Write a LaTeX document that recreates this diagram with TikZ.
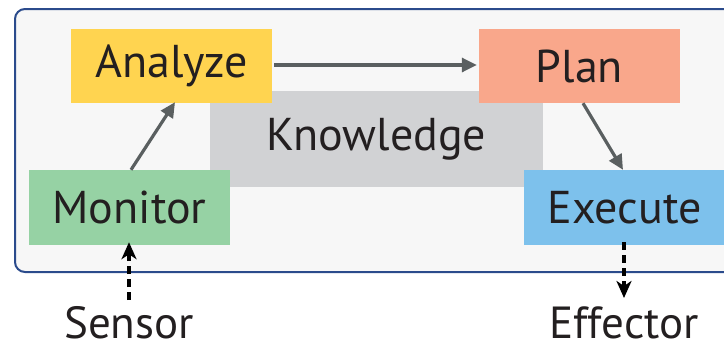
\documentclass[tikz,border=0pt]{standalone}
\usepackage{fontspec}
\setmainfont{PT Sans}
\usetikzlibrary{arrows.meta,calc}
\definecolor{frameblue}{HTML}{2B4B8C}
\definecolor{framefill}{HTML}{F7F7F7}
\definecolor{cAnalyze}{HTML}{FFD450}
\definecolor{cPlan}{HTML}{F9A78B}
\definecolor{cKnow}{HTML}{D1D2D4}
\definecolor{cMonitor}{HTML}{96D2A4}
\definecolor{cExecute}{HTML}{7DC1EC}
\definecolor{txt}{HTML}{231F20}
\definecolor{arrgray}{HTML}{5A5F60}
\tikzset{
  box/.style={rectangle, inner sep=0pt, minimum width=201pt, minimum height=75pt,
    text=txt, font=\fontsize{46}{50}\selectfont},
  flow/.style={draw=arrgray, line width=3.2pt, -{Triangle[length=15pt,width=14pt]}},
  io/.style={draw=black, line width=3.2pt, dash pattern=on 8pt off 5pt,
    -{Stealth[length=17pt,width=15pt,inset=5pt]}},
  lbl/.style={inner sep=0pt, text=txt, font=\fontsize{45}{50}\selectfont}
}
\begin{document}
\begin{tikzpicture}[x=1pt,y=-1pt]
\useasboundingbox (0,0) rectangle (724,343);
\clip (0,0) rectangle (724,343);
\draw[frameblue, fill=framefill, line width=2pt, rounded corners=10pt] (15,9) rectangle (760,272);
\node[box, fill=cKnow, minimum width=333pt, minimum height=96pt] (know) at (376.5,139) {Knowledge};
\node[box, fill=cAnalyze, minimum height=74pt] (analyze) at (171.5,66) {Analyze};
\node[box, fill=cPlan, minimum height=74pt] (plan) at (579.5,66) {Plan};
\node[box, fill=cMonitor] (monitor) at (129.5,207.5) {Monitor};
\node[box, fill=cExecute] (execute) at (624.5,207.5) {Execute};
\node[lbl, anchor=base] (sensor) at (129,338) {Sensor};
\node[lbl, anchor=base] (effector) at (624,338) {Effector};
\coordinate (s1) at (129,300);
\coordinate (e1) at (624,298);
\draw[flow] ([xshift=1.5pt]monitor.north) -- ([xshift=3.5pt,yshift=1pt]analyze.south);
\draw[flow] ([xshift=2pt,yshift=1pt]analyze.east) -- ([xshift=-2pt,yshift=1pt]plan.west);
\draw[flow] ([xshift=3.5pt]plan.south) -- ([xshift=-1.5pt]execute.north);
\draw[io] (s1) -- ([yshift=3pt]monitor.south -| s1);
\draw[io] ([yshift=3pt]execute.south -| e1) -- (e1);
\end{tikzpicture}
\end{document}
